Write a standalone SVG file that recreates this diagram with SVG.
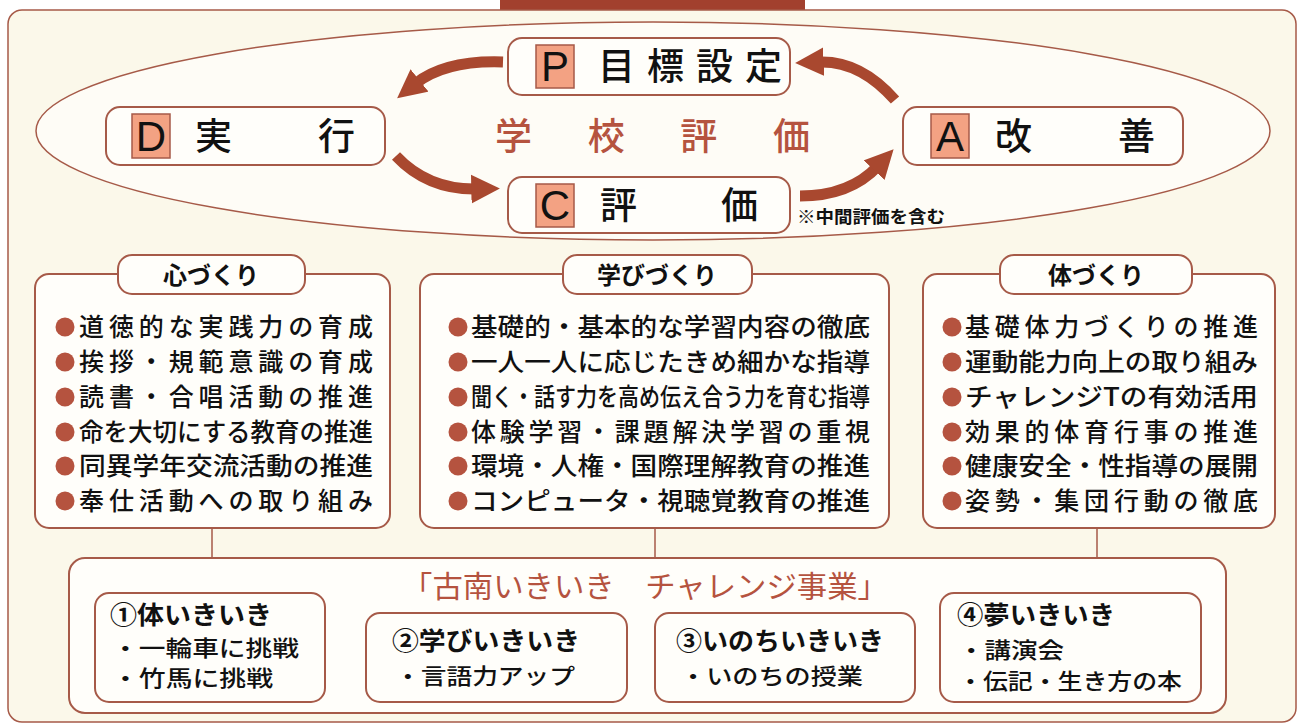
<svg xmlns="http://www.w3.org/2000/svg" width="1299" height="726" viewBox="0 0 1299 726">
<style>
.box{fill:#fffefa;stroke:#a65a48;stroke-width:2}
.sq{fill:#f3a283;stroke:#a65a48;stroke-width:1.5}
.let{font-family:"Liberation Sans",Arial,sans-serif;font-size:42px;fill:#111;text-anchor:middle}
.jp{font-family:"Noto Sans CJK JP","Noto Sans",sans-serif;fill:#111}
.big{font-size:37px;font-weight:500}
.hdr{font-size:24px;font-weight:bold;text-anchor:middle}
.item{font-size:25px;font-weight:500}
.sub{font-size:22px;font-weight:500}
.subh{font-size:25px;font-weight:bold}
.red{fill:#b5533f}
.bul{fill:#b5533f}
.arr{fill:none;stroke:#a9482f;stroke-width:11}
.line{stroke:#a65a48;stroke-width:1.5;fill:none}
</style>
<defs>
<marker id="ah" viewBox="0 0 10 10" refX="2" refY="5" markerWidth="2.6" markerHeight="2.7" orient="auto">
<path d="M0,0 L10,5 L0,10 z" fill="#a9482f"/>
</marker>
</defs>
<rect x="0" y="0" width="1299" height="726" fill="#ffffff"/>
<rect x="500" y="0" width="305" height="11" fill="#a2402e"/>
<rect id="panel" x="8" y="10" width="1288" height="712" rx="14" fill="#fbf8ea" stroke="#a65a48" stroke-width="1.5"/>
<ellipse cx="653" cy="131" rx="617" ry="109" fill="#fefcf6" stroke="#a65a48" stroke-width="1.5"/>
<text class="jp big red" x="495" y="150" textLength="315" lengthAdjust="spacing">学校評価</text>
<text class="jp" x="797" y="223" font-size="17" font-weight="bold" textLength="148" lengthAdjust="spacingAndGlyphs">※中間評価を含む</text>

<g id="connectors">
<path class="arr" d="M503,62 Q445,60 415,84" marker-end="url(#ah)"/>
<path class="arr" d="M396,156 Q428,190 477,189" marker-end="url(#ah)"/>
<path class="arr" d="M800,196 Q850,196 878,166" marker-end="url(#ah)"/>
<path class="arr" d="M895,100 Q860,60 818,62" marker-end="url(#ah)"/>
<line class="line" x1="212" y1="528" x2="212" y2="558"/>
<line class="line" x1="655" y1="528" x2="655" y2="558"/>
<line class="line" x1="1097" y1="528" x2="1097" y2="558"/>
</g>

<g id="nodeP">
<rect class="box" x="508" y="38" width="282" height="57" rx="14"/>
<rect class="sq" x="536" y="45" width="38" height="43"/>
<text class="let" x="555" y="81">P</text>
<text class="jp big" x="598" y="80" textLength="184" lengthAdjust="spacing">目標設定</text>
</g>
<g id="nodeD">
<rect class="box" x="106" y="107" width="279" height="58" rx="14"/>
<rect class="sq" x="132" y="114" width="38" height="44"/>
<text class="let" x="151" y="151">D</text>
<text class="jp big" x="195" y="150" textLength="160" lengthAdjust="spacing">実　　行</text>
</g>
<g id="nodeC">
<rect class="box" x="508" y="177" width="282" height="56" rx="14"/>
<rect class="sq" x="536" y="184" width="38" height="43"/>
<text class="let" x="555" y="220">C</text>
<text class="jp big" x="600" y="219" textLength="158" lengthAdjust="spacing">評　　価</text>
</g>
<g id="nodeA">
<rect class="box" x="903" y="107" width="280" height="58" rx="14"/>
<rect class="sq" x="931" y="114" width="38" height="44"/>
<text class="let" x="950" y="151">A</text>
<text class="jp big" x="995" y="150" textLength="160" lengthAdjust="spacing">改　　善</text>
</g>

<g id="kokoro">
<rect class="box" x="35" y="274" width="355" height="254" rx="14"/>
<rect class="box" x="118" y="255" width="187" height="39" rx="14"/>
<text class="jp hdr" x="211" y="284">心づくり</text>
<g class="bul"><circle cx="65" cy="327" r="9.5"/><circle cx="65" cy="362" r="9.5"/><circle cx="65" cy="397" r="9.5"/><circle cx="65" cy="432" r="9.5"/><circle cx="65" cy="466" r="9.5"/><circle cx="65" cy="501" r="9.5"/></g>
<text class="jp item" x="79" y="336" textLength="294" lengthAdjust="spacing">道徳的な実践力の育成</text>
<text class="jp item" x="79" y="371" textLength="294" lengthAdjust="spacing">挨拶・規範意識の育成</text>
<text class="jp item" x="79" y="406" textLength="294" lengthAdjust="spacing">読書・合唱活動の推進</text>
<text class="jp item" x="79" y="441" textLength="294" lengthAdjust="spacingAndGlyphs">命を大切にする教育の推進</text>
<text class="jp item" x="79" y="475" textLength="294" lengthAdjust="spacingAndGlyphs">同異学年交流活動の推進</text>
<text class="jp item" x="79" y="510" textLength="294" lengthAdjust="spacing">奉仕活動への取り組み</text>
</g>

<g id="manabi">
<rect class="box" x="420" y="274" width="469" height="254" rx="14"/>
<rect class="box" x="563" y="255" width="189" height="39" rx="14"/>
<text class="jp hdr" x="657" y="284">学びづくり</text>
<g class="bul"><circle cx="458" cy="327" r="9.5"/><circle cx="458" cy="362" r="9.5"/><circle cx="458" cy="397" r="9.5"/><circle cx="458" cy="432" r="9.5"/><circle cx="458" cy="466" r="9.5"/><circle cx="458" cy="501" r="9.5"/></g>
<text class="jp item" x="471" y="336" textLength="399" lengthAdjust="spacingAndGlyphs">基礎的・基本的な学習内容の徹底</text>
<text class="jp item" x="471" y="371" textLength="399" lengthAdjust="spacingAndGlyphs">一人一人に応じたきめ細かな指導</text>
<text class="jp item" x="471" y="406" textLength="399" lengthAdjust="spacingAndGlyphs">聞く・話す力を高め伝え合う力を育む指導</text>
<text class="jp item" x="471" y="441" textLength="399" lengthAdjust="spacing">体験学習・課題解決学習の重視</text>
<text class="jp item" x="471" y="475" textLength="399" lengthAdjust="spacingAndGlyphs">環境・人権・国際理解教育の推進</text>
<text class="jp item" x="471" y="510" textLength="399" lengthAdjust="spacingAndGlyphs">コンピュータ・視聴覚教育の推進</text>
</g>

<g id="karada">
<rect class="box" x="923" y="274" width="352" height="254" rx="14"/>
<rect class="box" x="1000" y="255" width="192" height="39" rx="14"/>
<text class="jp hdr" x="1096" y="284">体づくり</text>
<g class="bul"><circle cx="952" cy="327" r="9.5"/><circle cx="952" cy="362" r="9.5"/><circle cx="952" cy="397" r="9.5"/><circle cx="952" cy="432" r="9.5"/><circle cx="952" cy="466" r="9.5"/><circle cx="952" cy="501" r="9.5"/></g>
<text class="jp item" x="965" y="336" textLength="293" lengthAdjust="spacing">基礎体力づくりの推進</text>
<text class="jp item" x="965" y="371" textLength="293" lengthAdjust="spacingAndGlyphs">運動能力向上の取り組み</text>
<text class="jp item" x="965" y="406" textLength="293" lengthAdjust="spacingAndGlyphs">チャレンジTの有効活用</text>
<text class="jp item" x="965" y="441" textLength="293" lengthAdjust="spacing">効果的体育行事の推進</text>
<text class="jp item" x="965" y="475" textLength="293" lengthAdjust="spacingAndGlyphs">健康安全・性指導の展開</text>
<text class="jp item" x="965" y="510" textLength="293" lengthAdjust="spacing">姿勢・集団行動の徹底</text>
</g>

<g id="challenge">
<rect class="box" x="69" y="558" width="1157" height="155" rx="16"/>
<text class="jp red" x="402" y="597" font-size="30" textLength="486" lengthAdjust="spacingAndGlyphs">「古南いきいき　チャレンジ事業」</text>
</g>
<g id="sub1">
<rect class="box" x="95" y="593" width="230" height="109" rx="14"/>
<text class="jp subh" x="110" y="624" textLength="162" lengthAdjust="spacingAndGlyphs">①体いきいき</text>
<text class="jp sub" x="112" y="656" textLength="187" lengthAdjust="spacingAndGlyphs">・一輪車に挑戦</text>
<text class="jp sub" x="112" y="686" textLength="161" lengthAdjust="spacingAndGlyphs">・竹馬に挑戦</text>
</g>
<g id="sub2">
<rect class="box" x="366" y="613" width="261" height="89" rx="14"/>
<text class="jp subh" x="392" y="650" textLength="188" lengthAdjust="spacingAndGlyphs">②学びいきいき</text>
<text class="jp sub" x="395" y="684" textLength="180" lengthAdjust="spacingAndGlyphs">・言語力アップ</text>
</g>
<g id="sub3">
<rect class="box" x="655" y="613" width="260" height="89" rx="14"/>
<text class="jp subh" x="676" y="650" textLength="208" lengthAdjust="spacingAndGlyphs">③いのちいきいき</text>
<text class="jp sub" x="680" y="684" textLength="183" lengthAdjust="spacingAndGlyphs">・いのちの授業</text>
</g>
<g id="sub4">
<rect class="box" x="940" y="593" width="261" height="109" rx="14"/>
<text class="jp subh" x="957" y="624" textLength="158" lengthAdjust="spacingAndGlyphs">④夢いきいき</text>
<text class="jp sub" x="958" y="658" textLength="106" lengthAdjust="spacingAndGlyphs">・講演会</text>
<text class="jp sub" x="958" y="689" textLength="224" lengthAdjust="spacingAndGlyphs">・伝記・生き方の本</text>
</g>
</svg>
